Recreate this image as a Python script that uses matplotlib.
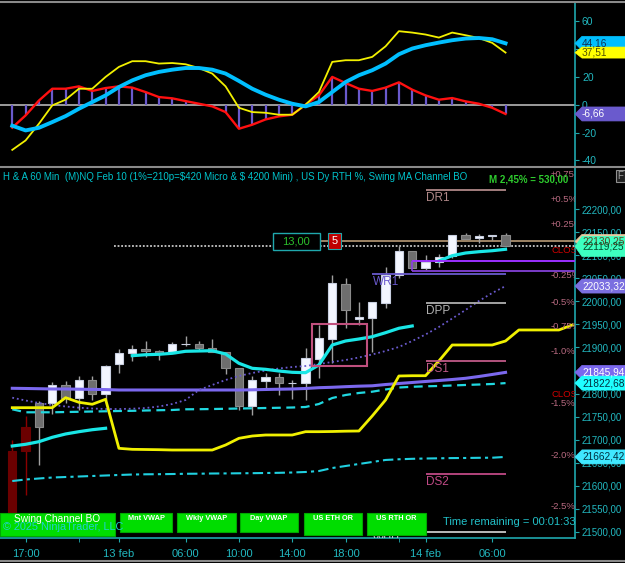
import matplotlib
matplotlib.use('Agg')
import matplotlib.pyplot as plt
import matplotlib.transforms as mtransforms
from matplotlib.patches import Rectangle, Polygon
from matplotlib.lines import Line2D
import numpy as np

plt.rcParams['font.family'] = ['Liberation Sans', 'DejaVu Sans']

W, H = 625, 563

# ---------------- data ----------------
# hourly bars, x = bar index
tick_pos = [1, 8, 13, 17, 21, 25, 31, 36]
tick_labels = ['17:00', '13 feb', '06:00', '10:00', '14:00', '18:00', '14 feb', '06:00']
minor_tick_pos = [5, 29]

opens = [21675, 21727, 21780, 21780, 21819, 21791, 21829, 21799, 21864, 21887,
         21896, 21892, 21889, 21907, 21907, 21898, 21890, 21855, 21774, 21827,
         21835, 21822, 21822, 21876, 21918, 22038, 21961, 21965, 21996, 22057,
         22110, 22072, 22085, 22099, 22144, 22137, 22142, 22144]
highs = [21699, 21751, 21784, 21824, 21827, 21838, 21838, 21862, 21896, 21905,
         21913, 21894, 21911, 21926, 21914, 21918, 21890, 21855, 21837, 21844,
         21844, 21829, 21898, 21949, 22057, 22050, 21998, 21998, 22074, 22121,
         22110, 22101, 22104, 22144, 22148, 22146, 22144, 22148]
lows = [21525, 21580, 21644, 21755, 21780, 21764, 21786, 21786, 21845, 21871,
        21880, 21873, 21889, 21904, 21894, 21891, 21842, 21764, 21753, 21808,
        21797, 21788, 21786, 21834, 21866, 21942, 21949, 21891, 21986, 22051,
        22073, 22068, 22075, 22094, 22135, 22126, 22133, 22119.25]
closes = [21535, 21676, 21727, 21819, 21791, 21829, 21800, 21860, 21889, 21896,
          21892, 21889, 21908, 21908, 21899, 21891, 21855, 21774, 21829, 21835,
          21823, 21822, 21878, 21920, 22039, 21981, 21967, 21998, 22057, 22110,
          22073, 22085, 22097, 22144, 22135, 22141, 22144, 22119.25]
painted_bars = 2   # first bars painted dark red by the swing signal

nan = np.nan
ma_fast = [21686.1, 21689.8, 21695.5, 21705.0, 21712.2, 21717.2, 21721.5, 21724.6, nan,
           21882.2, 21884.3, 21885.2, 21887.4, 21891.7, 21892.4, 21893.0, 21885.9, 21865.7,
           21854.8, 21852.6, 21848.9, 21846.1, 21845.3, 21862.0, 21905.4, 21914.1, 21918.4,
           21923.4, 21932.1, 21941.7, 21946.7, nan,
           22087.8, 22099.3, 22105.1, 22107.9, 22110.1, 22113.2]
vwap = [21811.4, 21811.0, 21810.5, 21809.9, 21809.9, 21809.4, 21809.0, 21808.6, 21807.7, 21807.7,
        21807.7, 21807.7, 21807.7, 21807.7, 21807.7, 21807.7, 21807.7, 21807.7, 21808.1, 21808.8,
        21809.4, 21809.9, 21811.0, 21812.7, 21813.6, 21814.9, 21816.0, 21816.8, 21819.6, 21821.8,
        21824.0, 21826.2, 21828.3, 21830.5, 21833.1, 21837.0, 21841.4, 21845.94]
vwap_band = [21765.8, 21759.3, 21759.3, 21759.3, 21759.9, 21760.4, 21761.0, 21761.5, 21762.1, 21762.5,
             21763.2, 21763.8, 21764.3, 21765.8, 21766.0, 21766.4, 21766.9, 21767.5, 21768.0, 21768.6,
             21769.1, 21769.7, 21770.8, 21777.3, 21790.3, 21796.8, 21801.2, 21804.0, 21808.8, 21813.1,
             21814.7, 21815.7, 21816.4, 21817.5, 21818.6, 21819.6, 21820.7, 21822.68]
ma_slow = [21791.0, 21784.9, 21779.5, 21775.1, 21771.9, 21769.3, 21767.5, 21766.4, 21766.4, 21767.1,
           21768.6, 21771.9, 21777.3, 21786.0, 21807.7, 21818.6, 21829.4, 21838.1, 21844.6, 21850.0,
           21854.4, 21857.6, 21859.8, 21864.1, 21868.5, 21872.8, 21878.3, 21884.8, 21892.4, 21901.1,
           21914.1, 21928.2, 21944.5, 21962.9, 21981.4, 22000.9, 22018.3, 22033.32]
swing_line = [21769.3, 21769.3, 21769.3, 21769.3, 21791.0, 21781.0, 21776.7, 21787.5, 21681.1, 21678.9,
              21678.5, 21678.1, 21677.4, 21677.4, 21677.4, 21677.4, 21688.3, 21702.8, 21707.8, 21710.0,
              21710.0, 21710.0, 21717.2, 21717.2, 21717.6, 21718.3, 21718.7, 21751.3, 21786.0, 21838.1,
              21838.7, 21838.7, 21870.7, 21905.4, 21905.4, 21905.4, 21905.4, 21914.1, 21938.0, 21938.0,
              21938.0, 21938.0, 21948.8]
lower_band = [21610.1, 21613.4, 21615.6, 21617.7, 21618.8, 21619.9, 21621.0, 21622.1, 21623.2, 21624.2,
              21624.7, 21624.9, 21625.3, 21625.8, 21626.0, 21626.4, 21626.6, 21626.9, 21627.1, 21627.5,
              21627.9, 21628.6, 21629.7, 21631.8, 21638.3, 21642.7, 21647.1, 21651.4, 21655.8, 21657.3,
              21658.3, 21659.0, 21659.4, 21659.9, 21660.1, 21660.5, 21660.7, 21662.42]

osc_fast = [-32.5, -25.7, -13.7, -0.5, 3.6, 11.5, 11.5, 20, 27.2, 31.3, 31.3, 29.6, 30, 29.1, 26.4,
            22.4, 13.2, -2.2, -5.3, -5.8, -7.2, -7.2, 0, 9.1, 30.8, 32, 32, 34.4, 42, 52.9, 51.9,
            50.5, 48.3, 51.9, 50, 48, 44.5, 37.51]
osc_slow = [-15.1, -18.5, -16.6, -12.5, -8.2, -2.9, 1.9, 6.7, 12.7, 17.5, 21.2, 23.6, 25.2, 26.4,
            26.4, 25.2, 22.4, 17.1, 11.5, 7.2, 3.6, 0.7, -1.2, 1.9, 9.1, 16.3, 21.2, 24.8, 29.6,
            36.3, 40.4, 42.8, 44.7, 46.4, 47.6, 48, 47.1, 44.16]
osc_hist = [-16.5, -7.7, 3, 11.5, 11.5, 13.2, 9.9, 12, 13.2, 12.3, 9.1, 5.5, 4.6, 2.6, 0.7, -1.2,
            -5.3, -17.3, -14.4, -10.6, -8.4, -7.2, 0, 6.7, 20, 15.6, 11.5, 9.9, 12.3, 16.1, 10.8,
            6.7, 3.6, 4.8, 2.4, 0.7, -2.2, -6.66]

# daily pivots (drawn from bar 31 to 37) and weekly ones (bar 27 to 37)
day_levels = ['DR1', 'DPP', 'DS1', 'DS2']
day_values = [22241.9, 21995.9, 21870.7, 21625.3]
week_levels = ['WR1', 'WPP']
week_values = [22058.9, 21499.0]
day_start, week_start, level_end = 31, 27, 37

# opening range box and rectangle
or_top, or_bottom, or_start = 22087.8, 22067.1, 30
box_lo, box_hi, box_x0, box_x1 = 21859.8, 21950.3, 22.5, 26.6

order_price = 22130.25
order_text = ['13,00', '5']

pct_labels = ['+0.75', '+0.5%', '+0.25%', 'CLOSE', '-0.25%', '-0.5%', '-0.75%', '-1.0%',
              'CLOSE', '-1.5%', '-2.0%', '-2.5%']
pct_values = [22276.6, 22221.7, 22165.9, 22109.5, 22055.2, 21998.0, 21945.1, 21890.9,
              21799.0, 21777.3, 21665.0, 21554.3]

buttons = ['Swing Channel BO', 'Mnt VWAP', 'Wkly VWAP', 'Day VWAP', 'US ETH OR', 'US RTH OR']

# ---------------- style ----------------
AXC = '#1fa8ad'
TXT = '#22b8c0'
GREY = '#8a8a8a'

fig = plt.figure(figsize=(W / 100, H / 100), dpi=100, facecolor='black')
ax_osc = fig.add_axes([0, 1 - 166 / H, 575 / W, 164 / H], facecolor='black')
ax = fig.add_axes([0, 1 - 538 / H, 575 / W, 371 / H], facecolor='black')

for a in (ax, ax_osc):
    a.set_xlim(-0.92, 42.21)
    for s in ('top', 'left', 'bottom'):
        a.spines[s].set_visible(False)
    a.spines['right'].set_color(AXC)
    a.spines['right'].set_linewidth(1.2)
    a.yaxis.tick_right()
    a.tick_params(axis='y', colors=AXC, labelcolor=TXT, labelsize=7, length=3, pad=2)

ax.set_ylim(21486.4, 22291.8)
ax_osc.set_ylim(-44.1, 73.9)

# ---- oscillator panel ----
n = len(closes)
idx = np.arange(n)
ax_osc.axhline(0, color='#a8a8a8', lw=1.3, zorder=1)
ax_osc.vlines(idx, 0, osc_hist, color='#6a5acd', lw=1.6, zorder=2)
ax_osc.plot(idx, osc_hist, color='#ff1010', lw=1.7, zorder=3)
ax_osc.plot(idx, osc_fast, color='#f2f000', lw=1.3, zorder=4)
ax_osc.plot(idx, osc_slow, color='#00bfff', lw=2.8, zorder=5)
ax_osc.set_yticks([-40, -20, 0, 20, 40, 60])
ax_osc.set_yticklabels(['-40', '-20', '0', '20', '40', '60'])
ax_osc.tick_params(axis='y', labelsize=7.5)
ax_osc.set_xticks([])

# ---- candles ----
o = np.array(opens); c = np.array(closes)
up = c >= o
face = np.where(up, '#f3f6ff', '#6e6e6e').astype(object)
edge = np.where(up, '#c8cfe0', '#8a8a8a').astype(object)
wick = np.array(['#a0a0a0'] * n, dtype=object)
face[:painted_bars] = '#6b0000'
edge[:painted_bars] = '#6b0000'
wick[:painted_bars] = '#8b0000'
ax.vlines(idx, lows, highs, colors=list(wick), lw=1.0, zorder=3)
bottoms = np.minimum(o, c)
heights = np.maximum(np.abs(c - o), 1.2)
ax.bar(idx, heights, bottom=bottoms, width=0.62, color=list(face),
       edgecolor=list(edge), lw=0.8, zorder=4)

# ---- overlays ----
ax.plot(idx, vwap, color='#7b68ee', lw=2.2, zorder=5)
ax.plot(idx, vwap_band, color='#20d8e0', lw=1.6, dashes=(4, 2.5), zorder=5)
ax.plot(idx, ma_slow, color='#6a5acd', lw=1.3, dashes=(1, 1.6), zorder=5)
ax.plot(idx, lower_band, color='#20d0e0', lw=1.5, dashes=(5, 2, 1.5, 2), zorder=5)
ax.plot(np.arange(len(swing_line)), swing_line, color='#f0f000', lw=2.0, zorder=6)
ax.plot(idx, ma_fast, color='#19e6e6', lw=2.3, zorder=6)

ax.add_patch(Rectangle((box_x0, box_lo), box_x1 - box_x0, box_hi - box_lo, fill=False,
                       ec='#c0507e', lw=1.5, zorder=7))

xmax = ax.get_xlim()[1]
ax.hlines(or_top, or_start, xmax, color='#9b30ff', lw=1.4, zorder=7)
ax.hlines(or_bottom, or_start, xmax, color='#7a3cc8', lw=1.4, zorder=7)
ax.vlines(or_start, or_bottom, or_top, color='#8a40e0', lw=1.2, zorder=7)

# close line and order line
ax.hlines(closes[-1], 7.6, xmax, color='#c8c8c8', lw=1.3, linestyles=(0, (1, 1)), zorder=2)
ax.hlines(order_price, 19.6, xmax, color='#c8a880', lw=1.1, zorder=2)

day_colors = ['#b08888', '#b0b0b0', '#c05a88', '#c04a86']
for name, val, col in zip(day_levels, day_values, day_colors):
    ax.hlines(val, day_start, level_end, color=col, lw=1.3, zorder=7)
    ax.annotate(name, (day_start, val), xytext=(0.5, -1.5), textcoords='offset points',
                color=col, fontsize=8.5, va='top', ha='left', zorder=7)
week_colors = ['#6a5acd', '#c8c8c8']
for name, val, col in zip(week_levels, week_values, week_colors):
    ax.hlines(val, week_start, level_end, color=col, lw=1.3, zorder=7)
    ax.annotate(name, (week_start, val), xytext=(0.5, -1.5), textcoords='offset points',
                color=col, fontsize=8.5, va='top', ha='left', zorder=7, clip_on=True)

blend = mtransforms.blended_transform_factory(ax.transAxes, ax.transData)
for lab, val in zip(pct_labels, pct_values):
    col = '#d00000' if lab == 'CLOSE' else '#b86a80'
    ax.text(551 / 575, val, lab, transform=blend, color=col, fontsize=6.8,
            va='center', ha='left', clip_on=True, zorder=8)

# ---- axes ticks ----
yt = np.arange(21500, 22201, 50)
ax.set_yticks(yt)
ax.set_yticklabels([f'{v:.2f}'.replace('.', ',') for v in yt])
ax.spines['bottom'].set_visible(True)
ax.spines['bottom'].set_color(AXC)
ax.spines['bottom'].set_linewidth(1.2)
ax.set_xticks(tick_pos)
ax.set_xticklabels(tick_labels)
ax.set_xticks(minor_tick_pos, minor=True)
ax.tick_params(axis='x', which='both', colors=AXC, labelcolor=TXT, labelsize=8, length=3, pad=5)

# ---- frame lines ----
for yy in (2, 166.5, 561):
    fig.add_artist(Line2D([0, 1], [1 - yy / H] * 2, color=GREY, lw=1.5, transform=fig.transFigure))


# ---- price tags on the right ----
def tag(a, val, text, fc, tc, half=7):
    yf = fig.transFigure.inverted().transform(a.transData.transform((0, val)))[1]
    x0 = a.get_position().x1
    hh = half / H
    pts = [(x0, yf), (x0 + 7 / W, yf + hh), (1, yf + hh), (1, yf - hh), (x0 + 7 / W, yf - hh)]
    fig.add_artist(Polygon(pts, closed=True, transform=fig.transFigure, fc=fc, ec=fc, lw=0.5, zorder=5))
    fig.text(x0 + 7 / W, yf, text, color=tc, fontsize=7.3, va='center', ha='left', zorder=6)


def fmt(v):
    return f'{v:.2f}'.replace('.', ',')


tag(ax_osc, osc_slow[-1], fmt(osc_slow[-1]), '#00bfff', '#103050')
tag(ax_osc, osc_fast[-1], fmt(osc_fast[-1]), '#ffff00', '#505000', half=5.5)
tag(ax_osc, osc_hist[-1], fmt(osc_hist[-1]), '#6a5acd', 'white')
tag(ax, order_price, fmt(order_price), '#e6c9a0', '#604020')
tag(ax, closes[-1], fmt(closes[-1]), '#3dffc0', '#004d2a', half=10)
tag(ax, ma_slow[-1], fmt(ma_slow[-1]), '#7b6fe0', 'white')
tag(ax, vwap[-1], fmt(vwap[-1]), '#7b68ee', 'white')
tag(ax, vwap_band[-1], fmt(vwap_band[-1]), '#20ffff', '#003040')
tag(ax, lower_band[-1], fmt(lower_band[-1]), '#40e8ff', '#003040')

# ---- order box ----
yc = fig.transFigure.inverted().transform(ax.transData.transform((0, order_price)))[1]
fig.add_artist(Rectangle((273 / W, yc - 8.5 / H), 47 / W, 17 / H, transform=fig.transFigure,
                         fc='black', ec='#1fa8ad', lw=1.0, zorder=5))
fig.text(296 / W, yc, order_text[0], color='#2bc02b', fontsize=8, ha='center', va='center', zorder=6)
fig.add_artist(Rectangle((328 / W, yc - 8 / H), 13 / W, 16 / H, transform=fig.transFigure,
                         fc='#c00000', ec='#1fa8ad', lw=0.8, zorder=5))
fig.text(334.5 / W, yc, order_text[1], color='white', fontsize=8, ha='center', va='center', zorder=6)

# ---- header texts ----
title = (r'H & A 60 Min  (M)NQ Feb 10 (1%=210p=\$420 Micro & \$ 4200 Mini) , '
         'US Dy RTH %, Swing MA Channel BO')
fig.text(3 / W, 1 - 177 / H, title, color='#00c4cc', fontsize=7.05, va='center', ha='left')
fig.text(489 / W, 1 - 180 / H, 'M 2,45% = 530,00', color='#2ecc2e', fontsize=7,
         fontweight='bold', va='center', ha='left', zorder=7)
fig.add_artist(Rectangle((616 / W, 1 - 182 / H), 9 / W, 12 / H, transform=fig.transFigure,
                         fc='#202020', ec='#909090', lw=0.8))
fig.text(617.5 / W, 1 - 176 / H, 'F', color='#a0a0a0', fontsize=7, va='center')

# ---- buttons ----
btn_box = [(0, 115, 536), (120, 172, 532), (177, 236, 532), (240, 298, 532), (304, 362, 535),
           (367, 426, 535)]
for k, (lab, (x0, x1, yb)) in enumerate(zip(buttons, btn_box)):
    fig.add_artist(Rectangle((x0 / W, 1 - yb / H), (x1 - x0) / W, (yb - 513) / H,
                             transform=fig.transFigure, fc='#00dd00', ec='#00a800', lw=0.8, zorder=8))
    if k == 0:
        fig.text((x0 + x1) / 2 / W, 1 - 519.5 / H, lab, color='white', fontsize=7.3,
                 ha='center', va='center', zorder=9)
    else:
        fig.text((x0 + x1) / 2 / W, 1 - 518.5 / H, lab, color='white', fontsize=5.3,
                 fontweight='bold', ha='center', va='center', zorder=9)
fig.text(3 / W, 1 - 527 / H, '\u00a9 2025 NinjaTrader, LLC', color='#1fd0d0', fontsize=7.8,
         ha='left', va='center', zorder=10)
fig.text(443 / W, 1 - 522 / H, 'Time remaining = 00:01:33', color='#22c0c8', fontsize=8,
         ha='left', va='center', zorder=10)

fig.savefig('out.png', dpi=100, facecolor='black')
